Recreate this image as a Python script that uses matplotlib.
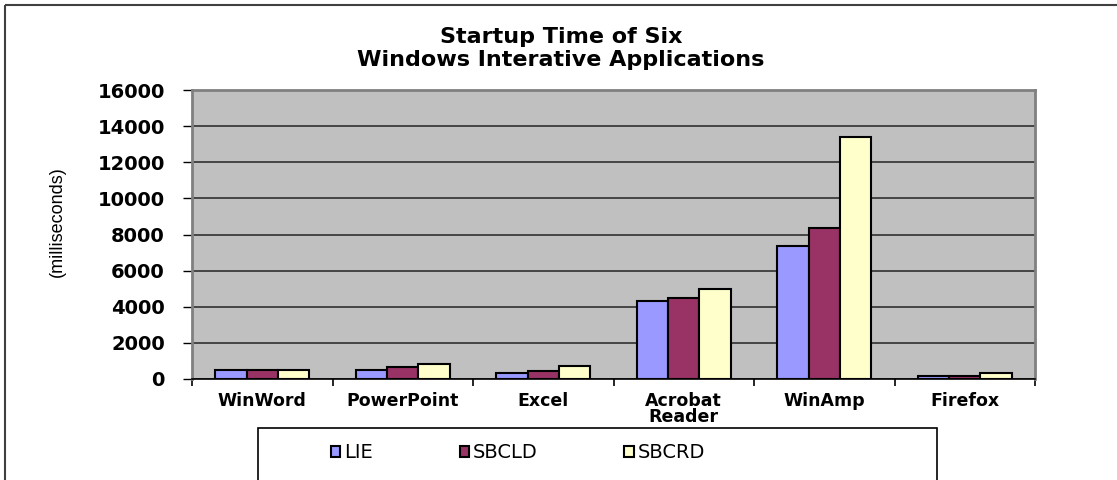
import matplotlib
matplotlib.use('Agg')
import matplotlib.pyplot as plt
import numpy as np
from matplotlib.patches import Rectangle
from matplotlib.lines import Line2D
import matplotlib.ticker as ticker

plt.rcParams['font.family'] = ['DejaVu Sans']

apps = ['WinWord', 'PowerPoint', 'Excel', 'Acrobat\nReader', 'WinAmp', 'Firefox']
series = ['LIE', 'SBCLD', 'SBCRD']
lie = [480, 520, 350, 4330, 7360, 180]
sbcld = [490, 660, 430, 4470, 8380, 190]
sbcrd = [490, 810, 700, 4960, 13400, 350]
colors = ['#9999FF', '#993366', '#FFFFCC']

W, H = 1117, 480
fig = plt.figure(figsize=(W / 100, H / 100), dpi=100)

# outer chart border (only top/left visible in the original crop)
fig.add_artist(Line2D([5 / W, 5 / W], [-0.01, 1 - 5 / H], color='#404040', lw=1.5,
                      solid_capstyle='butt'))
fig.add_artist(Line2D([5 / W, 1.01], [1 - 5 / H, 1 - 5 / H], color='#404040', lw=1.5,
                      solid_capstyle='butt'))

ax = fig.add_axes([192 / W, 1 - 379 / H, (1035 - 192) / W, (379 - 90) / H])
ax.set_facecolor('#C0C0C0')

x = np.arange(len(apps))
bw = 0.222
for i, (vals, col, name) in enumerate(zip([lie, sbcld, sbcrd], colors, series)):
    ax.bar(x + (i - 1) * bw, vals, bw, color=col, edgecolor='black', lw=1.5,
           label=name, zorder=3)

ax.set_xlim(-0.5, len(apps) - 0.5)
ax.set_ylim(0, 16000)
ax.set_yticks(np.arange(0, 16001, 2000))
ax.yaxis.grid(True, color='#303030', lw=1.2, zorder=1)
ax.set_axisbelow(True)

ax.set_xticks(x)
ax.set_xticklabels(apps, fontsize=12.5, fontweight='bold', linespacing=0.9)
ax.xaxis.set_minor_locator(ticker.FixedLocator(np.arange(-0.5, len(apps), 1.0)))
ax.tick_params(axis='x', which='major', length=0, pad=9)
ax.tick_params(axis='x', which='minor', length=5, width=1.2, direction='out')
ax.tick_params(axis='y', length=6.5, width=1, direction='out', pad=13)
for lab in ax.get_yticklabels():
    lab.set_fontsize(14)
    lab.set_fontweight('bold')

for s in ['left', 'right', 'top']:
    ax.spines[s].set_color('#808080')
    ax.spines[s].set_linewidth(2)
ax.spines['bottom'].set_color('black')
ax.spines['bottom'].set_linewidth(1.2)

fig.text(57 / W, 1 - 222 / H, '(milliseconds)', rotation=90, ha='center', va='center',
         fontsize=13, family=['Liberation Sans'])

fig.text(561 / W, 1 - 37 / H, 'Startup Time of Six', ha='center', va='center',
         fontsize=16, fontweight='bold')
fig.text(561 / W, 1 - 60 / H, 'Windows Interative Applications', ha='center', va='center',
         fontsize=16, fontweight='bold')

# legend box (runs off the bottom edge as in the original)
fig.add_artist(Rectangle((258 / W, -0.05), (937 - 258) / W, (1 - 428 / H) + 0.05,
                         transform=fig.transFigure, fill=False, edgecolor='black', lw=1.2))
handles, labels = ax.get_legend_handles_labels()
fig.legend(handles, labels, loc='center', bbox_to_anchor=(518 / W, 1 - 453 / H),
           ncol=3, frameon=False, fontsize=14, handlelength=0.5, handleheight=0.5,
           handletextpad=0.2, columnspacing=4.45)

fig.savefig('out.png', dpi=100)
